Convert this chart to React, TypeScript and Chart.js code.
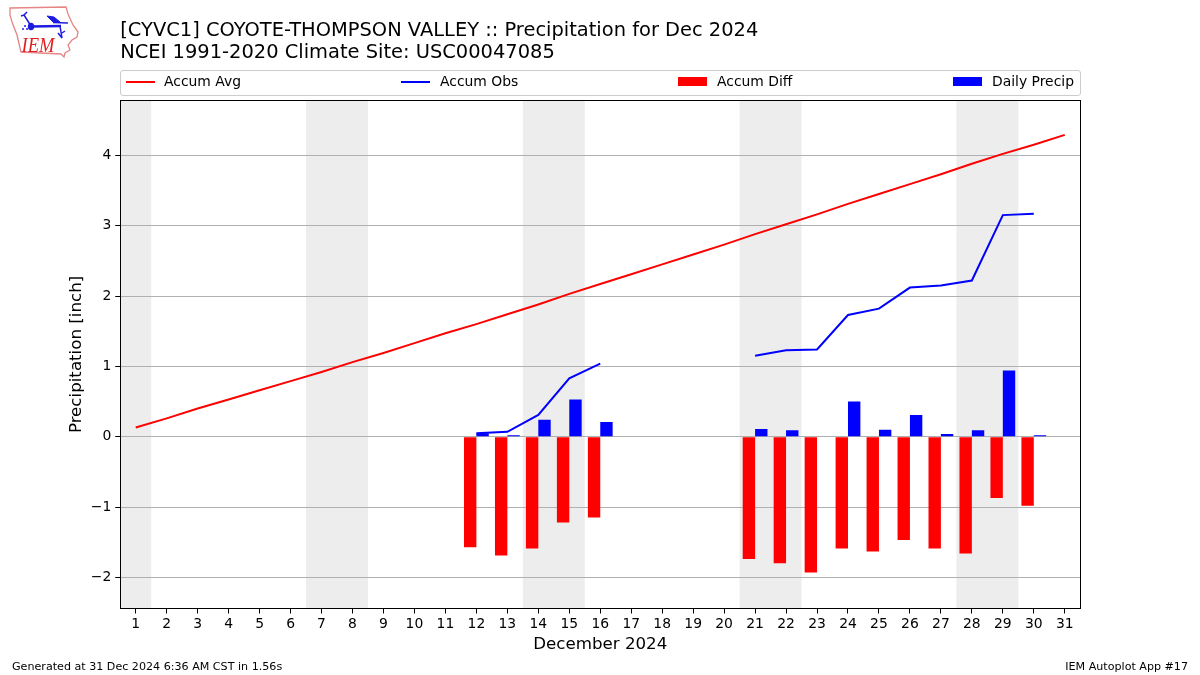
import React, { useEffect, useRef } from "react";
import { Chart, registerables } from "chart.js";

Chart.register(...registerables);

const FONT = '"DejaVu Sans"';
const days = ["1","2","3","4","5","6","7","8","9","10","11","12","13","14","15","16","17","18","19","20","21","22","23","24","25","26","27","28","29","30","31"];
const yTicks = [-2, -1, 0, 1, 2, 3, 4];
const weekendBands = [["1","1"],["7","8"],["14","15"],["21","22"],["28","29"]];
const accumAvg = [0.13,0.26,0.40,0.53,0.66,0.79,0.92,1.06,1.19,1.33,1.47,1.60,1.74,1.88,2.03,2.17,2.31,2.45,2.59,2.73,2.88,3.02,3.16,3.31,3.45,3.59,3.73,3.88,4.02,4.15,4.29];
const accumObs = [null,null,null,null,null,null,null,null,null,null,null,0.05,0.07,0.31,0.83,1.04,null,null,null,null,1.15,1.23,1.24,1.73,1.82,2.12,2.15,2.22,3.15,3.17,null];
const accumDiff = [null,null,null,null,null,null,null,null,null,null,null,-1.57,-1.69,-1.59,-1.22,-1.15,null,null,null,null,-1.74,-1.80,-1.93,-1.59,-1.63,-1.47,-1.59,-1.66,-0.87,-0.98,null];
const dailyPrecip = [null,null,null,null,null,null,null,null,null,null,null,0.05,0.02,0.24,0.53,0.21,null,null,null,null,0.11,0.09,0,0.50,0.10,0.31,0.04,0.09,0.94,0.02,null];
const titleLines = ["[CYVC1] COYOTE-THOMPSON VALLEY :: Precipitation for Dec 2024", "NCEI 1991-2020 Climate Site: USC00047085"];
const legendItems = [
  { label: "Accum Avg", color: "#ff0000", kind: "line", left: 126 },
  { label: "Accum Obs", color: "#0000ff", kind: "line", left: 401 },
  { label: "Accum Diff", color: "#ff0000", kind: "bar", left: 678 },
  { label: "Daily Precip", color: "#0000ff", kind: "bar", left: 953 },
];

const framePlugin = {
  id: "frame",
  beforeDraw(chart: any) {
    const { ctx, chartArea: a, scales } = chart;
    ctx.save();
    ctx.fillStyle = "#ededed";
    for (const [from, to] of weekendBands) {
      const x0 = scales.x.getPixelForValue(days.indexOf(from)) - scales.x.width / 62;
      const x1 = scales.x.getPixelForValue(days.indexOf(to)) + scales.x.width / 62;
      ctx.fillRect(x0, a.top, x1 - x0, a.bottom - a.top);
    }
    ctx.restore();
  },
  afterDraw(chart: any) {
    const { ctx, chartArea: a } = chart;
    ctx.save();
    ctx.strokeStyle = "#000";
    ctx.lineWidth = 1;
    ctx.strokeRect(Math.floor(a.left) + 0.5, Math.floor(a.top) + 0.5, Math.round(a.right - a.left), Math.round(a.bottom - a.top));
    ctx.restore();
  },
};

function Logo() {
  return (
    <svg width={90} height={64} style={{ position: "absolute", left: 0, top: 0 }}>
      <path d="M10 8 L66 7 L68 14 L73 25 L78 32 L77 37 L72 40 L68 45 L70 50 L65 53 L64 57 L61 54 L21 52 L20 48 L17 35 L12 22 L10 15 Z" fill="none" stroke="#e58585" strokeWidth={1.3} />
      <g stroke="#1c1ce0" fill="none">
        <path d="M31 26.5 L61 26" strokeWidth={2.4} />
        <path d="M31 26 L24 15 M24 15 L21 16 M24 15 L27 12" strokeWidth={1.5} />
        <path d="M60 26 L62 38 M62 38 L58 33 M62 33 L65 31" strokeWidth={1.5} />
        <path d="M47 16 L54 17 L60 22 L53 22 Z" fill="#1c1ce0" strokeWidth={1} />
        <path d="M53 22.5 L68 23" strokeWidth={1.5} />
      </g>
      <ellipse cx={31} cy={26.5} rx={3.2} ry={3.8} fill="#1c1ce0" />
      <circle cx={25} cy={26} r={1} fill="#1c1ce0" />
      <circle cx={23} cy={29} r={1} fill="#1c1ce0" />
      <circle cx={27} cy={29} r={1} fill="#1c1ce0" />
      <text x={21.5} y={52} fill="#e02020" fontFamily='"Liberation Serif"' fontStyle="italic" fontSize={22} textLength={33} lengthAdjust="spacingAndGlyphs">IEM</text>
    </svg>
  );
}

export default function App() {
  const ref = useRef<HTMLCanvasElement>(null);
  useEffect(() => {
    const chart = new Chart(ref.current!, {
      type: "bar",
      data: {
        labels: days,
        datasets: [
          { type: "line", label: "Accum Avg", data: accumAvg, borderColor: "#ff0000", borderWidth: 2, pointRadius: 0, tension: 0, order: 1 },
          { type: "line", label: "Accum Obs", data: accumObs, borderColor: "#0000ff", borderWidth: 2, pointRadius: 0, tension: 0, spanGaps: false, order: 0 },
          { type: "bar", label: "Accum Diff", data: accumDiff, backgroundColor: "#ff0000", barPercentage: 1, categoryPercentage: 0.8, order: 2 },
          { type: "bar", label: "Daily Precip", data: dailyPrecip, backgroundColor: "#0000ff", barPercentage: 1, categoryPercentage: 0.8, order: 3 },
        ],
      } as any,
      options: {
        responsive: false,
        animation: false,
        layout: { padding: { left: 0, right: 119.75, top: 0, bottom: 0 } },
        plugins: {
          legend: { display: false },
          tooltip: { enabled: false },
          title: {
            display: true,
            text: titleLines,
            align: "start",
            fullSize: false,
            color: "#000",
            font: { family: FONT, size: 19.44, weight: "normal", lineHeight: 1.13 },
            padding: { top: 20, bottom: 36.5 },
          },
        },
        scales: {
          x: {
            type: "category",
            offset: true,
            afterFit: (s: any) => { s.height = 66.5; },
            grid: { drawOnChartArea: false, offset: false, tickLength: 5, tickColor: "#000", tickWidth: 1 },
            border: { display: false },
            ticks: { color: "#000", font: { family: FONT, size: 13.9 }, maxRotation: 0, autoSkip: false, padding: 3 },
            title: { display: true, text: "December 2024", color: "#000", font: { family: FONT, size: 16.67 }, padding: { top: 0, bottom: 20 } },
          },
          y: {
            min: -2.442,
            max: 4.78,
            afterFit: (s: any) => { s.width = 120.25; },
            afterBuildTicks: (s: any) => { s.ticks = yTicks.map((value) => ({ value })); },
            grid: { color: "#b0b0b0", lineWidth: 1, tickColor: "#000", tickLength: 5 },
            border: { display: false },
            ticks: {
              color: "#000",
              font: { family: FONT, size: 13.9 },
              padding: 4,
              callback: (v: any) => (v < 0 ? "\u2212" + Math.abs(v) : String(v)),
            },
            title: { display: true, text: "Precipitation [inch]", color: "#000", font: { family: FONT, size: 16.67 }, padding: { top: 67, bottom: 0 } },
          },
        },
      } as any,
      plugins: [framePlugin],
    });
    return () => chart.destroy();
  }, []);

  return (
    <div style={{ position: "fixed", left: 0, top: 0, width: 1200, height: 675, background: "#fff", overflow: "hidden", fontFamily: FONT, color: "#000" }}>
      <canvas ref={ref} width={1200} height={675} style={{ position: "absolute", left: 0, top: 0, display: "block" }} />
      <Logo />
      <div style={{ position: "absolute", left: 120, top: 70, width: 959, height: 24, border: "1px solid #cccccc", borderRadius: 3 }} />
      {legendItems.map((it, i) => (
        <React.Fragment key={it.label}>
          <div style={{ position: "absolute", left: it.left, width: 29, top: it.kind === "line" ? 81 : 77, height: it.kind === "line" ? 2 : 9, background: it.color }} />
          <div style={{ position: "absolute", left: it.left + (i === 0 ? 38 : 39), top: 73, fontSize: 13.9, lineHeight: "17px", whiteSpace: "nowrap" }}>{it.label}</div>
        </React.Fragment>
      ))}
      <div style={{ position: "absolute", left: 12, top: 660, fontSize: 11.12, lineHeight: "13px", whiteSpace: "nowrap" }}>Generated at 31 Dec 2024 6:36 AM CST in 1.56s</div>
      <div style={{ position: "absolute", right: 12, top: 660, fontSize: 11.12, lineHeight: "13px", whiteSpace: "nowrap" }}>IEM Autoplot App #17</div>
    </div>
  );
}
